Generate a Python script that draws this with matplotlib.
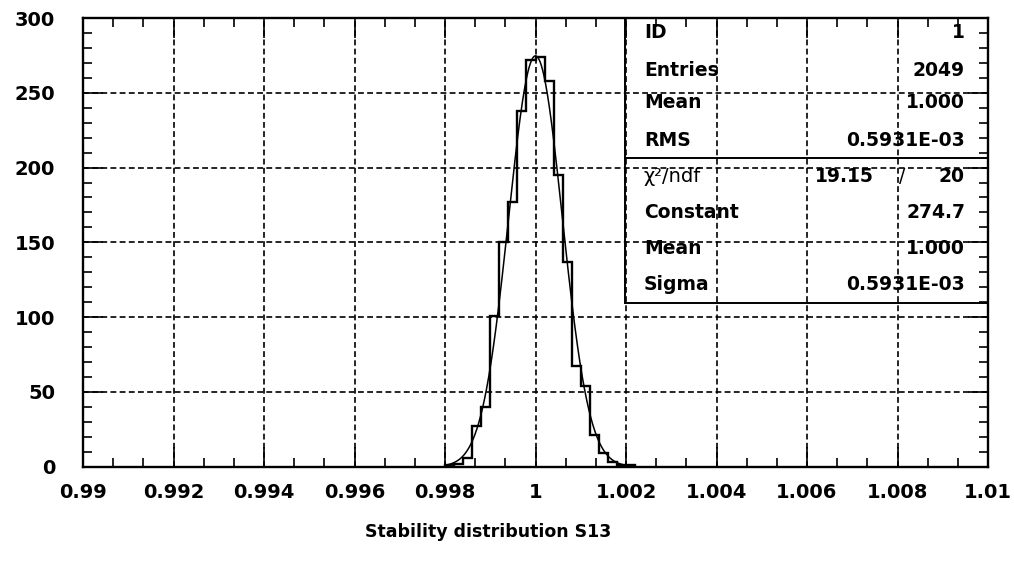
import numpy as np
import matplotlib
matplotlib.use("Agg")
import matplotlib.pyplot as plt
from matplotlib.ticker import AutoMinorLocator

# ---- data ----
bin_low = 0.998
bin_width = 0.0002
counts = [1, 2, 6, 27, 40, 101, 150, 177, 238, 272, 274, 258, 195, 137,
          67, 54, 21, 9, 3, 1, 1]

fit_constant = 274.7
fit_mean = 1.000
fit_sigma = 0.5931e-03

x_ticks = [0.99, 0.992, 0.994, 0.996, 0.998, 1.0, 1.002, 1.004, 1.006, 1.008, 1.01]
x_tick_labels = ["0.99", "0.992", "0.994", "0.996", "0.998", "1", "1.002",
                 "1.004", "1.006", "1.008", "1.01"]
y_ticks = [0, 50, 100, 150, 200, 250, 300]
y_tick_labels = ["0", "50", "100", "150", "200", "250", "300"]

stat_labels = ["ID", "Entries", "Mean", "RMS"]
stat_values = ["1", "2049", "1.000", "0.5931E-03"]
fit_labels = ["Constant", "Mean", "Sigma"]
fit_values = ["274.7", "1.000", "0.5931E-03"]
chi2_value = "19.15"
ndf_value = "20"
x_title = "Stability distribution S13"

# ---- figure ----
W, H = 1014, 572
fig = plt.figure(figsize=(W / 100, H / 100), dpi=100)
plt.rcParams['font.family'] = ['DejaVu Sans']

ax_l, ax_r, ax_t, ax_b = 83, 988, 18, 466.7
ax = fig.add_axes([ax_l / W, (H - ax_b) / H, (ax_r - ax_l) / W, (ax_b - ax_t) / H])

edges = bin_low + bin_width * np.arange(len(counts) + 1)
ax.stairs(counts, edges, color='black', linewidth=1.7)

xf = np.linspace(0.998, 1.0022, 400)
yf = fit_constant * np.exp(-0.5 * ((xf - fit_mean) / fit_sigma) ** 2)
ax.plot(xf, yf, color='black', linewidth=1.1)

ax.set_xlim(0.99, 1.01)
ax.set_ylim(0, 300)
ax.set_xticks(x_ticks)
ax.set_xticklabels(x_tick_labels)
ax.set_yticks(y_ticks)
ax.set_yticklabels(y_tick_labels)
ax.xaxis.set_minor_locator(AutoMinorLocator(3))
ax.yaxis.set_minor_locator(AutoMinorLocator(5))
ax.tick_params(which='both', direction='in', top=True, right=True, color='black')
ax.tick_params(which='major', length=14.5, width=1.2)
ax.tick_params(which='minor', length=6.5, width=1.2)
ax.tick_params(axis='x', which='major', pad=11.5)
ax.tick_params(axis='y', which='major', pad=20)
for lab in ax.get_xticklabels() + ax.get_yticklabels():
    lab.set_fontsize(14)
    lab.set_fontweight('bold')
for s in ax.spines.values():
    s.set_linewidth(1.7)
ax.grid(True, which='major', color='black', linestyle=(0, (3.5, 2.0)), linewidth=1.2)
ax.set_axisbelow(False)

# ---- stats box ----
def ax_x(px):
    return (px - ax_l) / (ax_r - ax_l)

def ax_y(py):
    return (ax_b - py) / (ax_b - ax_t)

box_left, box_div, box_bot = 625, 158, 303
tr = ax.transAxes
ax.plot([ax_x(box_left), ax_x(box_left)], [ax_y(box_bot), 1.0], color='black',
        linewidth=1.4, transform=tr, clip_on=False)
ax.plot([ax_x(box_left), 1.0], [ax_y(box_div), ax_y(box_div)], color='black',
        linewidth=1.4, transform=tr, clip_on=False)
ax.plot([ax_x(box_left), 1.0], [ax_y(box_bot), ax_y(box_bot)], color='black',
        linewidth=1.4, transform=tr, clip_on=False)

lab_x = ax_x(644)
val_x = ax_x(965)
upper_rows = [33, 70, 103, 140]
for lab, val, yy in zip(stat_labels, stat_values, upper_rows):
    ax.text(lab_x, ax_y(yy), lab, transform=tr, ha='left', va='center',
            fontsize=13.5, fontweight='bold')
    ax.text(val_x, ax_y(yy), val, transform=tr, ha='right', va='center',
            fontsize=13.5, fontweight='bold')

chi_y = 177
ax.text(lab_x, ax_y(chi_y), "\u03c7\u00b2/ndf", transform=tr, ha='left', va='center',
        fontsize=14, fontweight='normal')
ax.text(ax_x(874), ax_y(chi_y), chi2_value, transform=tr, ha='right', va='center',
        fontsize=13.5, fontweight='bold')
ax.text(ax_x(902), ax_y(chi_y), "/", transform=tr, ha='center', va='center',
        fontsize=13.5, fontweight='normal')
ax.text(val_x, ax_y(chi_y), ndf_value, transform=tr, ha='right', va='center',
        fontsize=13.5, fontweight='bold')

lower_rows = [213, 248, 285]
for lab, val, yy in zip(fit_labels, fit_values, lower_rows):
    ax.text(lab_x, ax_y(yy), lab, transform=tr, ha='left', va='center',
            fontsize=13.5, fontweight='bold')
    ax.text(val_x, ax_y(yy), val, transform=tr, ha='right', va='center',
            fontsize=13.5, fontweight='bold')

fig.text(488 / W, (H - 532) / H, x_title, ha='center', va='center',
         fontsize=12.5, fontweight='bold')

fig.savefig("out.png", dpi=100, facecolor='white')
